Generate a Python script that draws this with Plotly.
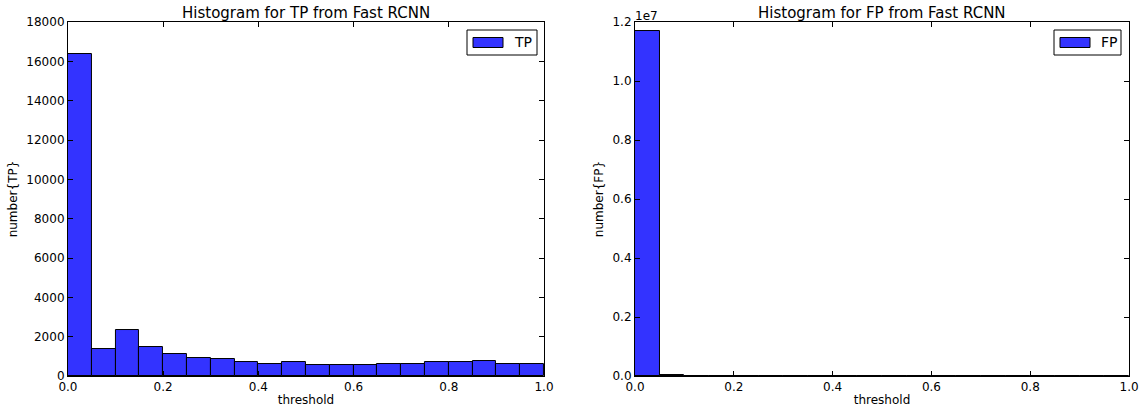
import numpy as np
import plotly.graph_objects as go
from plotly.subplots import make_subplots

# Histogram bins over the detection threshold
bin_edges = np.linspace(0.0, 1.0, 21)
bin_centers = (bin_edges[:-1] + bin_edges[1:]) / 2
bin_width = bin_edges[1] - bin_edges[0]

# Counts of true positives per threshold bin
tp_counts = [16350, 1380, 2320, 1460, 1100, 900, 850, 730, 630, 690,
             580, 580, 580, 610, 610, 690, 730, 760, 630, 630]

# Counts of false positives per threshold bin
fp_counts = [11710000, 30000, 15000, 0, 0, 0, 0, 0, 0, 0,
             0, 0, 0, 0, 0, 0, 0, 0, 0, 0]

x_ticks = [0, 0.2, 0.4, 0.6, 0.8, 1.0]
x_ticktext = ["0.0", "0.2", "0.4", "0.6", "0.8", "1.0"]
tp_ticks = list(range(0, 18001, 2000))
fp_ticks = [0, 2e6, 4e6, 6e6, 8e6, 10e6, 12e6]
fp_ticktext = ["0.0", "0.2", "0.4", "0.6", "0.8", "1.0", "1.2"]

BAR_COLOR = "rgba(0,0,255,0.8)"
FONT = "DejaVu Sans"

fig = make_subplots(rows=1, cols=2)

fig.add_trace(go.Bar(x=bin_centers, y=tp_counts, width=bin_width, name="TP",
                     marker=dict(color=BAR_COLOR, line=dict(color="black", width=1)),
                     showlegend=False), row=1, col=1)
fig.add_trace(go.Bar(x=bin_centers, y=fp_counts, width=bin_width, name="FP",
                     marker=dict(color=BAR_COLOR, line=dict(color="black", width=1)),
                     showlegend=False), row=1, col=2)

axis_common = dict(showgrid=False, zeroline=False, showline=True, linecolor="black",
                   linewidth=1, mirror="ticks", ticks="inside", ticklen=5,
                   tickcolor="black", automargin=False,
                   tickfont=dict(family=FONT, size=12, color="black"))
title_font = dict(family=FONT, size=12, color="black")

fig.update_xaxes(**axis_common, range=[0, 1], tickvals=x_ticks, ticktext=x_ticktext,
                 title=dict(text="threshold", font=title_font, standoff=2))
fig.update_xaxes(domain=[0.0596, 0.4772], row=1, col=1)
fig.update_xaxes(domain=[0.557, 0.9904], row=1, col=2)

fig.update_yaxes(**axis_common)
fig.update_yaxes(range=[0, 18000], tickvals=tp_ticks, tickformat="d",
                 title=dict(text="number{TP}", font=title_font, standoff=6),
                 domain=[0.0829, 0.9463], row=1, col=1)
fig.update_yaxes(range=[0, 12e6], tickvals=fp_ticks, ticktext=fp_ticktext,
                 title=dict(text="number{FP}", font=title_font, standoff=6),
                 domain=[0.0829, 0.9463], row=1, col=2)

# Matplotlib-style legend boxes: frame, wide colour patch, series name
W, H = 1140.0, 410.0
legend_boxes = [((467, 30, 537, 55), fig.data[0].name),
                ((1054, 30, 1121, 55), fig.data[1].name)]
for (x0, y0, x1, y1), label in legend_boxes:
    fig.add_shape(type="rect", xref="paper", yref="paper",
                  x0=x0 / W, x1=x1 / W, y0=1 - y1 / H, y1=1 - y0 / H,
                  line=dict(color="black", width=1), fillcolor="white")
    fig.add_shape(type="rect", xref="paper", yref="paper",
                  x0=(x0 + 6) / W, x1=(x0 + 36) / W,
                  y0=1 - (y0 + 17.5) / H, y1=1 - (y0 + 7.5) / H,
                  line=dict(color="black", width=1), fillcolor=BAR_COLOR)
    fig.add_annotation(text=label, xref="paper", yref="paper",
                       x=(x0 + 45) / W, y=1 - (y0 + 12.5) / H,
                       xanchor="left", yanchor="middle", showarrow=False,
                       font=dict(family=FONT, size=14, color="black"))

title_style = dict(family=FONT, size=15, color="black")
fig.add_annotation(text="Histogram for TP from Fast RCNN", xref="paper", yref="paper",
                   x=0.2684, y=1 - 13 / H, xanchor="center", yanchor="middle",
                   showarrow=False, font=title_style)
fig.add_annotation(text="Histogram for FP from Fast RCNN", xref="paper", yref="paper",
                   x=0.7737, y=1 - 13 / H, xanchor="center", yanchor="middle",
                   showarrow=False, font=title_style)
fig.add_annotation(text="1e7", xref="paper", yref="paper",
                   x=0.5555, y=1 - 16 / H, xanchor="left", yanchor="middle",
                   showarrow=False, font=dict(family=FONT, size=12, color="black"))

fig.update_layout(width=1140, height=410, margin=dict(l=0, r=0, t=0, b=0),
                  paper_bgcolor="white", plot_bgcolor="white", bargap=0,
                  showlegend=False)

fig.write_html("out.html")
